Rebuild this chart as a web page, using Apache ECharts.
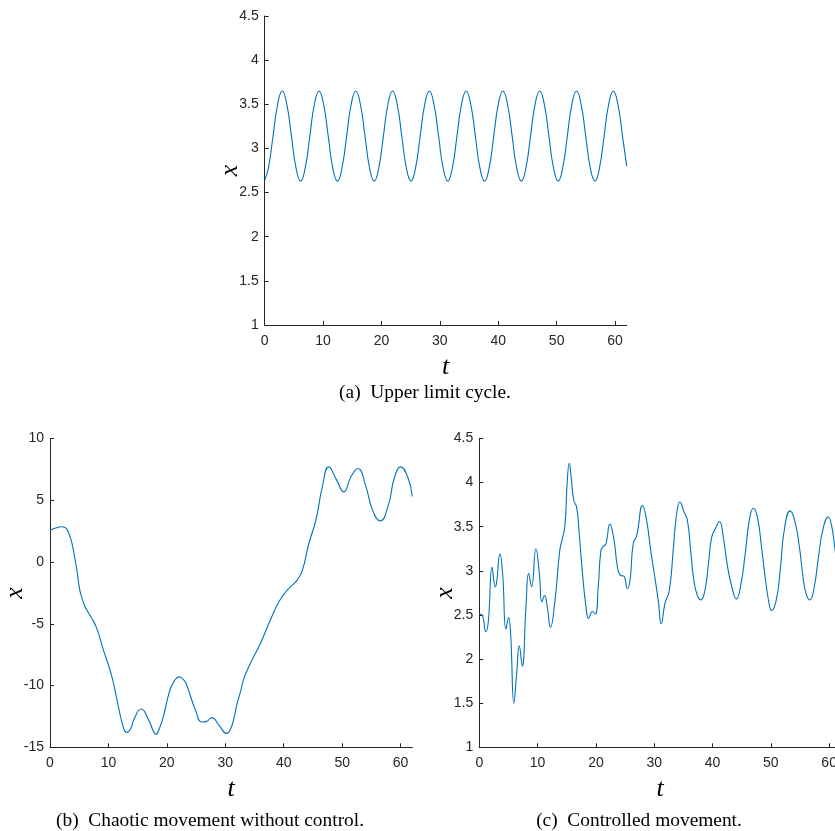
<!DOCTYPE html>
<html>
<head>
<meta charset="utf-8">
<script src="https://cdn.jsdelivr.net/npm/echarts@6/dist/echarts.min.js"></script>
<style>html,body{margin:0;padding:0;background:#fff}#c{width:835px;height:831px}</style>
</head>
<body>
<div id="c"></div>
<script>
// ---- data ----
const xTicks = [0, 10, 20, 30, 40, 50, 60];
const yTicksA = [1, 1.5, 2, 2.5, 3, 3.5, 4, 4.5];
const yTicksB = [-15, -10, -5, 0, 5, 10];
const yTicksC = [1, 1.5, 2, 2.5, 3, 3.5, 4, 4.5];

// (a) upper limit cycle
const tA = [0, 0.64, 1.43, 2.21, 3.00, 3.79, 4.58, 5.36,
  6.15, 6.94, 7.73, 8.51, 9.30, 10.09, 10.88, 11.66,
  12.45, 13.24, 14.03, 14.81, 15.60, 16.39, 17.18, 17.96,
  18.75, 19.54, 20.33, 21.11, 21.90, 22.69, 23.48, 24.26,
  25.05, 25.84, 26.63, 27.41, 28.20, 28.99, 29.78, 30.56,
  31.35, 32.14, 32.93, 33.71, 34.50, 35.29, 36.08, 36.86,
  37.65, 38.44, 39.23, 40.01, 40.80, 41.59, 42.38, 43.16,
  43.95, 44.74, 45.53, 46.31, 47.10, 47.89, 48.68, 49.46,
  50.25, 51.04, 51.83, 52.61, 53.40, 54.19, 54.98, 55.76,
  56.55, 57.34, 58.13, 58.91, 59.70, 60.49, 61.28, 62.00];
const xA = [2.64, 2.78, 3.14, 3.50, 3.65, 3.50, 3.14, 2.78,
  2.63, 2.78, 3.14, 3.50, 3.65, 3.50, 3.14, 2.78,
  2.63, 2.78, 3.14, 3.50, 3.65, 3.50, 3.14, 2.78,
  2.63, 2.78, 3.14, 3.50, 3.65, 3.50, 3.14, 2.78,
  2.63, 2.78, 3.14, 3.50, 3.65, 3.50, 3.14, 2.78,
  2.63, 2.78, 3.14, 3.50, 3.65, 3.50, 3.14, 2.78,
  2.63, 2.78, 3.14, 3.50, 3.65, 3.50, 3.14, 2.78,
  2.63, 2.78, 3.14, 3.50, 3.65, 3.50, 3.14, 2.78,
  2.63, 2.78, 3.14, 3.50, 3.65, 3.50, 3.14, 2.78,
  2.63, 2.78, 3.14, 3.50, 3.65, 3.50, 3.14, 2.80];

// (b) chaotic movement without control
const tB = [0, 1.0, 2.0, 2.6, 3.1, 3.6, 4.0, 4.6, 5.1, 5.6, 6.0, 7.15, 8.0, 9.15, 10.6, 11.7,
  12.6, 13.15, 13.8, 14.4, 15.6, 16.9, 17.6, 18.1, 18.7, 19.4, 20.5, 21.3, 22.1, 23.0, 23.4,
  24.9, 26.0, 26.8, 27.7, 28.9, 30.2, 30.9, 31.5, 32.0, 32.6, 33.2, 34.3, 36.0, 37.7, 39.2,
  40.6, 42.3, 43.2, 44.3, 45.5, 46.6, 47.7, 49.05, 50.3, 51.5, 52.7, 54.0, 55.2, 56.5, 57.9,
  58.9, 60.0, 61.2, 62.0];
const xB = [2.55, 2.75, 2.85, 2.8, 2.45, 1.8, 0.96, -0.65, -2.27, -3.1, -3.62, -4.56, -5.37, -7.13, -9.29, -11.7,
  -13.46, -13.8, -13.5, -12.7, -11.9, -12.8, -13.6, -13.95, -13.5, -12.5, -10.4, -9.6, -9.3, -9.6, -9.96,
  -12.0, -12.95, -12.9, -12.6, -13.2, -13.87, -13.5, -12.6, -11.5, -10.5, -9.4, -8.2, -6.6, -4.7, -3.2,
  -2.27, -1.46, -0.65, 1.5, 3.4, 6.08, 7.7, 6.63, 5.68, 6.9, 7.57, 6.2, 4.2, 3.33, 4.6,
  6.76, 7.7, 6.9, 5.3];

// (c) controlled movement
const tC = [0, 0.57, 1.1, 1.54, 2.2, 2.74, 2.97, 3.54, 4.0, 4.57, 5.03, 5.37, 5.94, 6.4, 6.86, 7.37,
  8.0, 8.46, 8.97, 9.71, 10.3, 10.74, 11.2, 11.66, 12.2, 12.97, 13.8, 14.3, 14.7, 15.1, 15.43,
  15.8, 16.2, 16.7, 17.14, 17.7, 18.3, 18.74, 19.4, 19.9, 20.4, 20.86, 21.3, 21.7, 22.4, 23.1,
  23.7, 24.2, 24.8, 25.4, 25.85, 26.4, 27.0, 28.0, 28.7, 29.4, 30.1, 30.7, 31.2, 31.85, 32.6,
  33.3, 33.85, 34.4, 35.1, 35.7, 36.25, 36.8, 37.4, 38.0, 38.7, 39.3, 39.85, 40.5, 41.2, 41.85,
  42.5, 43.3, 44.1, 44.8, 45.6, 46.3, 47.0, 47.7, 48.4, 49.1, 49.7, 50.1, 50.9, 51.6, 52.3,
  53.3, 54.1, 54.9, 55.6, 56.15, 56.7, 57.4, 58.1, 58.9, 59.85, 60.4, 61.0, 61.5, 62.0];
const xC = [2.51, 2.49, 2.31, 2.42, 3.04, 2.82, 2.87, 3.19, 2.97, 2.34, 2.47, 2.29, 1.50, 1.83, 2.15, 1.92,
  2.59, 2.97, 2.82, 3.25, 2.97, 2.65, 2.72, 2.59, 2.36, 2.66, 3.23, 3.38, 3.52, 4.03, 4.22,
  4.03, 3.80, 3.72, 3.42, 2.97, 2.59, 2.46, 2.54, 2.51, 2.82, 3.23, 3.28, 3.30, 3.53, 3.35,
  3.04, 2.95, 2.94, 2.80, 2.89, 3.31, 3.40, 3.74, 3.57, 3.23, 2.93, 2.66, 2.40, 2.63, 2.78,
  3.27, 3.65, 3.78, 3.67, 3.57, 3.23, 2.89, 2.72, 2.67, 2.78, 3.08, 3.38, 3.48, 3.56, 3.38,
  3.08, 2.82, 2.68, 2.82, 3.19, 3.57, 3.71, 3.61, 3.27, 2.89, 2.63, 2.55, 2.66, 3.00, 3.46,
  3.68, 3.57, 3.27, 2.89, 2.72, 2.67, 2.80, 3.12, 3.46, 3.61, 3.52, 3.25, 3.00, 2.80];

const captions = ['(a)\u2002Upper limit cycle.', '(b)\u2002Chaotic movement without control.', '(c)\u2002Controlled movement.'];

// ---- chart ----
const AX = '#262626';
const LINE = '#0072BD';
const tickFont = {color: AX, fontSize: 14, fontFamily: '"Liberation Sans", Arial, sans-serif'};
const nameFont = {color: '#000', fontSize: 26, fontStyle: 'italic', fontFamily: '"Liberation Serif", "Times New Roman", serif'};
const capFont = '"Liberation Serif", "Times New Roman", serif';

function pairs(t, x) { return t.map((v, i) => [v, x[i]]); }

function xAxis(gi) {
  return {
    type: 'value', gridIndex: gi, min: 0, max: 62,
    axisLine: {show: true, onZero: false, lineStyle: {color: AX, width: 1}},
    axisTick: {show: true, inside: true, length: 4, customValues: xTicks, lineStyle: {color: AX, width: 1}},
    axisLabel: Object.assign({customValues: xTicks, margin: 9}, tickFont),
    splitLine: {show: false},
    name: 't', nameLocation: 'middle', nameGap: 29, nameMoveOverlap: false, nameTextStyle: nameFont
  };
}
function yAxis(gi, min, max, ticks) {
  return {
    type: 'value', gridIndex: gi, min: min, max: max,
    axisLine: {show: true, onZero: false, lineStyle: {color: AX, width: 1}},
    axisTick: {show: true, inside: true, length: 4, customValues: ticks, lineStyle: {color: AX, width: 1}},
    axisLabel: Object.assign({customValues: ticks, margin: 6}, tickFont),
    splitLine: {show: false},
    name: 'x', nameLocation: 'middle', nameGap: 21.5, nameRotate: 90, nameMoveOverlap: false, nameTextStyle: nameFont
  };
}
function series(gi, data) {
  return {
    type: 'line', xAxisIndex: gi, yAxisIndex: gi, data: data,
    showSymbol: false, smooth: 0.5,
    lineStyle: {color: LINE, width: 1.1}, itemStyle: {color: LINE}, clip: true
  };
}

const chart = echarts.init(document.getElementById('c'), null, {renderer: 'canvas'});
chart.setOption({
  animation: false,
  backgroundColor: '#fff',
  grid: [
    {left: 264.7, top: 16, width: 362, height: 309, containLabel: false, outerBoundsMode: 'none'},
    {left: 50, top: 438.5, width: 362.3, height: 308.8, containLabel: false, outerBoundsMode: 'none'},
    {left: 479.3, top: 438.5, width: 361.5, height: 308.8, containLabel: false, outerBoundsMode: 'none'}
  ],
  xAxis: [xAxis(0), xAxis(1), xAxis(2)],
  yAxis: [yAxis(0, 1, 4.5, yTicksA), yAxis(1, -15, 10, yTicksB), yAxis(2, 1, 4.5, yTicksC)],
  series: [series(0, pairs(tA, xA)), series(1, pairs(tB, xB)), series(2, pairs(tC, xC))],
  graphic: [
    {type: 'text', x: 425, y: 393, style: {text: captions[0], fontSize: 19.4, fontFamily: capFont, fill: '#000', align: 'center', verticalAlign: 'middle'}},
    {type: 'text', x: 210, y: 821, style: {text: captions[1], fontSize: 19.4, fontFamily: capFont, fill: '#000', align: 'center', verticalAlign: 'middle'}},
    {type: 'text', x: 639, y: 821, style: {text: captions[2], fontSize: 19.4, fontFamily: capFont, fill: '#000', align: 'center', verticalAlign: 'middle'}}
  ]
});
</script>
</body>
</html>
